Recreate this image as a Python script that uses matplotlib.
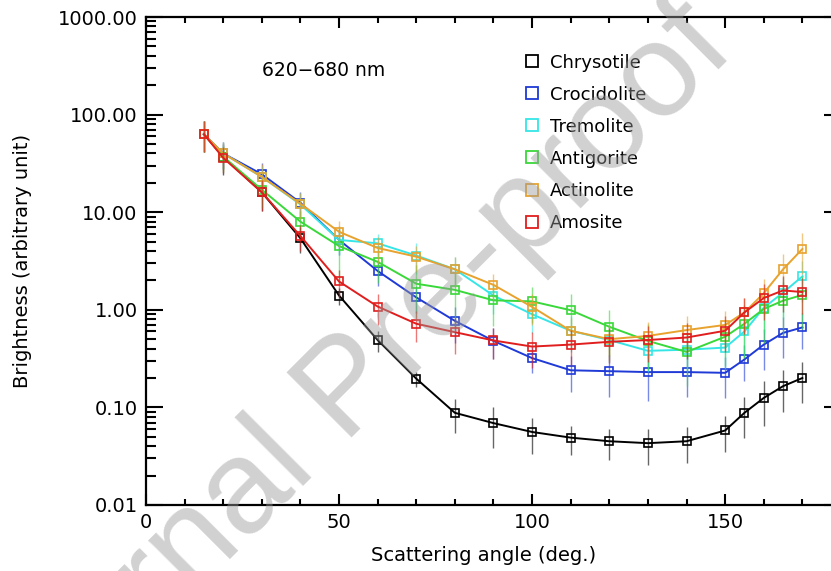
import numpy as np
import matplotlib
matplotlib.use('Agg')
import matplotlib.pyplot as plt
from matplotlib.lines import Line2D
import matplotlib.ticker as mticker

# scattering angles (deg.)
angle = [15, 20, 30, 40, 50, 60, 70, 80, 90, 100, 110, 120, 130, 140, 150, 155, 160, 165, 170]

names = ["Chrysotile", "Crocidolite", "Tremolite", "Antigorite", "Actinolite", "Amosite"]
colors = ["#000000", "#1f3ad6", "#36e6e6", "#3ad83a", "#e8a22e", "#e01e1e"]

chrysotile  = [63, 37, 16, 5.4, 1.4, 0.49, 0.197, 0.088, 0.069, 0.056, 0.049, 0.045, 0.043, 0.045, 0.058, 0.088, 0.125, 0.165, 0.20]
crocidolite = [63, 40, 24.5, 12.5, 5.2, 2.5, 1.34, 0.77, 0.48, 0.32, 0.24, 0.235, 0.23, 0.23, 0.226, 0.31, 0.44, 0.58, 0.66]
tremolite   = [63, 40, 23, 12, 5.2, 4.8, 3.6, 2.6, 1.4, 0.9, 0.61, 0.49, 0.38, 0.39, 0.41, 0.6, 1.05, 1.5, 2.2]
antigorite  = [63, 37, 17, 8.0, 4.5, 3.1, 1.85, 1.6, 1.25, 1.22, 0.99, 0.67, 0.48, 0.37, 0.53, 0.72, 1.02, 1.24, 1.42]
actinolite  = [63, 40, 23, 12.2, 6.3, 4.3, 3.5, 2.6, 1.8, 1.07, 0.61, 0.5, 0.54, 0.62, 0.70, 0.94, 1.48, 2.6, 4.2]
amosite     = [63, 36, 16, 5.7, 1.95, 1.08, 0.72, 0.59, 0.485, 0.42, 0.44, 0.47, 0.49, 0.52, 0.61, 0.94, 1.32, 1.58, 1.52]

# relative (linear) error of each point
err_chrysotile  = [0.35, 0.35, 0.35, 0.3, 0.2, 0.25, 0.18, 0.38, 0.45, 0.4, 0.33, 0.35, 0.4, 0.4, 0.4, 0.45, 0.48, 0.45, 0.45]
err_crocidolite = [0.35, 0.3, 0.3, 0.3, 0.3, 0.3, 0.3, 0.4, 0.35, 0.3, 0.4, 0.45, 0.5, 0.45, 0.45, 0.4, 0.45, 0.45, 0.4]
err_tremolite   = [0.35, 0.3, 0.3, 0.3, 0.3, 0.25, 0.35, 0.35, 0.35, 0.35, 0.4, 0.4, 0.4, 0.4, 0.4, 0.45, 0.45, 0.45, 0.45]
err_antigorite  = [0.35, 0.3, 0.35, 0.3, 0.6, 0.4, 0.55, 0.6, 0.45, 0.4, 0.45, 0.5, 0.5, 0.55, 0.5, 0.55, 0.55, 0.55, 0.55]
err_actinolite  = [0.35, 0.3, 0.35, 0.3, 0.3, 0.3, 0.3, 0.35, 0.3, 0.35, 0.35, 0.4, 0.4, 0.4, 0.4, 0.4, 0.4, 0.45, 0.45]
err_amosite     = [0.35, 0.3, 0.35, 0.3, 0.3, 0.35, 0.35, 0.4, 0.35, 0.4, 0.4, 0.4, 0.4, 0.4, 0.4, 0.4, 0.4, 0.4, 0.4]

series = [chrysotile, crocidolite, tremolite, antigorite, actinolite, amosite]
errors = [err_chrysotile, err_crocidolite, err_tremolite, err_antigorite, err_actinolite, err_amosite]

plt.rcParams['font.family'] = ['DejaVu Sans']

fig = plt.figure(figsize=(8.31, 5.71), dpi=100)
# right spine falls just outside the picture, as in the original crop
ax = fig.add_axes([0.1757, 0.1156, 0.8363, 0.8546])

x = np.array(angle)
for vals, errs, c, name in zip(series, errors, colors, names):
    y = np.array(vals)
    e = y * np.array(errs)
    ax.errorbar(x, y, yerr=e, fmt="none", ecolor=c, elinewidth=1.0, alpha=0.6, capsize=0)
    ax.plot(x, y, "-", color=c, linewidth=1.4, marker="s", markersize=5.5,
            markerfacecolor="none", markeredgecolor=c, markeredgewidth=1.2)

ax.set_yscale("log")
ax.set_xlim(0, 180)
ax.set_ylim(0.01, 1000)

ax.xaxis.set_major_locator(mticker.MultipleLocator(50))
ax.xaxis.set_minor_locator(mticker.MultipleLocator(10))
ax.yaxis.set_major_locator(mticker.LogLocator(base=10, numticks=10))
ax.yaxis.set_minor_locator(mticker.LogLocator(base=10, subs=np.arange(2, 10), numticks=10))
ax.yaxis.set_major_formatter(mticker.FuncFormatter(lambda v, p: "%.2f" % v))
ax.yaxis.set_minor_formatter(mticker.NullFormatter())

ax.tick_params(which="both", direction="in", top=True, right=True, labelsize=14, width=1.5, pad=6)
ax.tick_params(axis="x", which="major", length=8)
ax.tick_params(axis="x", which="minor", length=4)
ax.tick_params(axis="y", which="major", length=12)
ax.tick_params(axis="y", which="minor", length=7)
for s in ax.spines.values():
    s.set_linewidth(1.6)

ax.set_xlabel("Scattering angle (deg.)", fontsize=14)
ax.set_ylabel("Brightness (arbitrary unit)", fontsize=14)
ax.xaxis.set_label_coords(0.485, -0.085)
ax.yaxis.set_label_coords(-0.164, 0.5)

ax.text(0.167, 0.891, "620\u2212680 nm", transform=ax.transAxes, fontsize=13.5, va="center", ha="left")

handles = [Line2D([], [], linestyle="none", marker="s", markersize=8, markerfacecolor="none",
                  markeredgecolor=c, markeredgewidth=1.3) for c in colors]
ax.legend(handles, names, loc="upper left", bbox_to_anchor=(0.535, 0.94), frameon=False,
          fontsize=13, handlelength=0.8, handletextpad=0.6, labelspacing=0.78, borderaxespad=0)

# journal watermark
fig.text(0.42, 0.315, "Journal Pre-proof", rotation=45, fontsize=96, color="0.6", alpha=0.45,
         ha="center", va="center", family="Liberation Sans", zorder=10)

fig.savefig("out.png", dpi=100)
